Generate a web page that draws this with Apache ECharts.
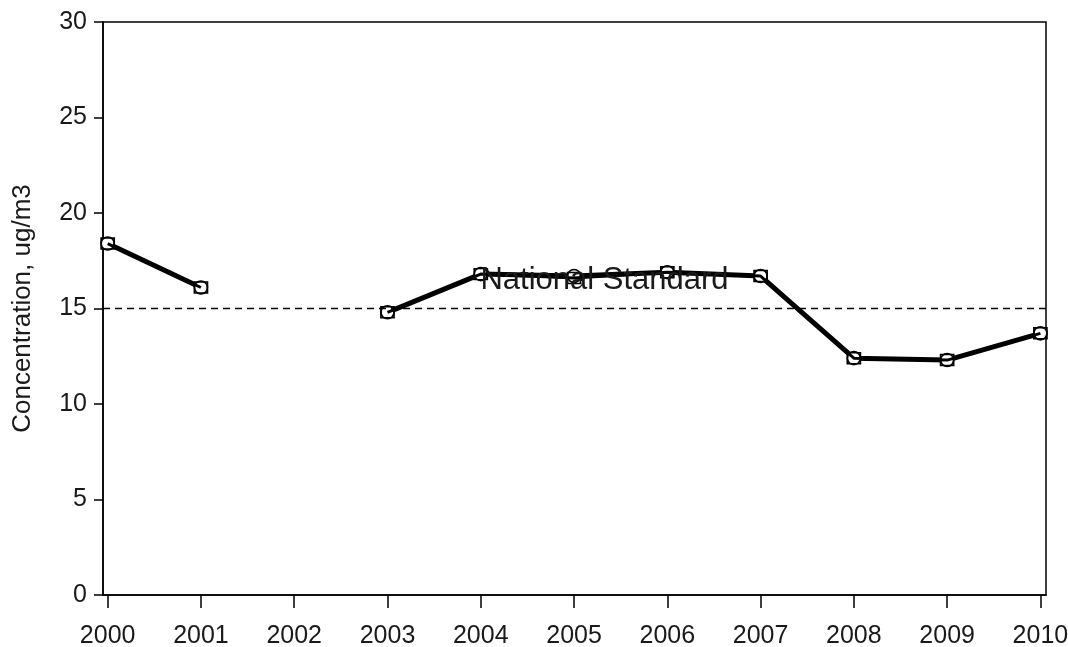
<!DOCTYPE html>
<html>
<head>
<meta charset="utf-8">
<script src="https://cdn.jsdelivr.net/npm/echarts@6/dist/echarts.min.js"></script>
<style>
  html, body { margin: 0; padding: 0; background: #fff; }
  #chart { width: 1068px; height: 647px; }
</style>
</head>
<body>
<div id="chart"></div>
<script>
// Annual mean concentration by year (2002 has no data)
const years = [2000, 2001, 2002, 2003, 2004, 2005, 2006, 2007, 2008, 2009, 2010];
const circleValues = [18.4, 16.1, null, 14.8, 16.8, 16.7, 16.9, 16.7, 12.4, 12.3, 13.7];
const squareValues = [18.4, 16.1, null, 14.8, 16.8, 16.6, 16.9, 16.7, 12.4, 12.3, 13.7];
const standardValue = 15;
const standardLabel = 'National Standard';
const yTicks = [0, 5, 10, 15, 20, 25, 30];
const yTitle = 'Concentration, ug/m3';

const FONT = 'Liberation Sans';
const pairs = (vals) => years.map((y, i) => [y, vals[i]]);

const chart = echarts.init(document.getElementById('chart'), null, { renderer: 'canvas' });
chart.setOption({
  animation: false,
  backgroundColor: '#ffffff',
  grid: {
    left: 103, right: 22, top: 22, bottom: 52,
    containLabel: false, outerBoundsMode: 'none',
    show: true, borderColor: '#000', borderWidth: 1.5, backgroundColor: 'transparent'
  },
  xAxis: {
    type: 'value',
    min: 1999.95, max: 2010.06,
    axisLine: { show: true, lineStyle: { color: '#000', width: 1.5 } },
    axisTick: { show: true, length: 13, lineStyle: { color: '#000', width: 1.5 }, customValues: years },
    axisLabel: {
      customValues: years, color: '#1a1a1a', fontFamily: FONT, fontSize: 25, margin: 29,
      formatter: (v) => String(Math.round(v))
    },
    splitLine: { show: false }
  },
  yAxis: {
    type: 'value',
    min: 0, max: 30, interval: 5,
    name: yTitle, nameLocation: 'middle', nameGap: 67, nameRotate: 90,
    nameTextStyle: { color: '#1a1a1a', fontFamily: FONT, fontSize: 26 },
    axisLine: { show: true, lineStyle: { color: '#000', width: 1.5 } },
    axisTick: { show: true, length: 9, lineStyle: { color: '#000', width: 1.5 } },
    axisLabel: {
      color: '#1a1a1a', fontFamily: FONT, fontSize: 25, margin: 16,
      customValues: yTicks
    },
    splitLine: { show: false }
  },
  series: [
    {
      type: 'line',
      data: pairs(circleValues),
      connectNulls: false,
      symbol: 'circle', symbolSize: 13, showSymbol: true,
      itemStyle: { color: '#fff', borderColor: '#000', borderWidth: 1.6 },
      lineStyle: { color: '#000', width: 5 },
      z: 3,
      markLine: {
        silent: true, symbol: 'none',
        lineStyle: { color: '#000', type: [7, 5], width: 1.3 },
        label: {
          show: true, formatter: standardLabel, position: 'middle',
          color: '#1a1a1a', fontFamily: FONT, fontSize: 31, distance: 13,
          offset: [30, 0]
        },
        data: [{ yAxis: standardValue }]
      }
    },
    {
      type: 'line',
      data: pairs(squareValues),
      connectNulls: false,
      symbol: 'rect', symbolSize: [13, 11], showSymbol: true,
      itemStyle: { color: 'rgba(255,255,255,0)', borderColor: '#000', borderWidth: 1.6 },
      lineStyle: { color: '#000', width: 3 },
      z: 4
    }
  ]
});
</script>
</body>
</html>
